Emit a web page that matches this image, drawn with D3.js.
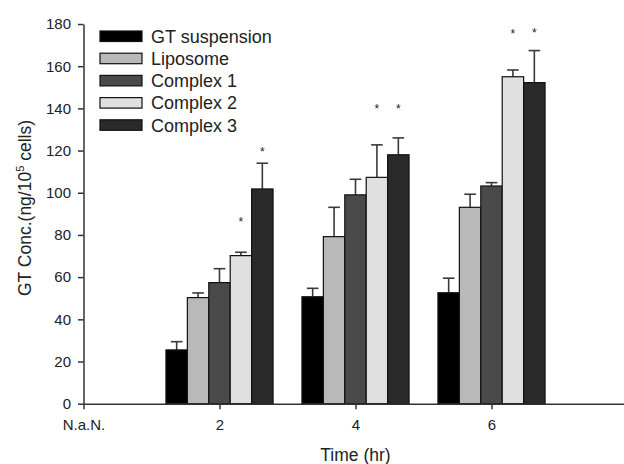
<!DOCTYPE html>
<html>
<head>
<meta charset="utf-8">
<script src="https://cdn.jsdelivr.net/npm/d3@7/dist/d3.min.js"></script>
<style>
  html, body { margin: 0; padding: 0; background: #fff; }
  svg { display: block; }
  text { font-family: "Liberation Sans", Arial, sans-serif; fill: #222; }
</style>
</head>
<body>
<svg id="chart" width="624" height="464"></svg>
<script>
// ---- data ----
const times = [2, 4, 6];
const seriesNames = ["GT suspension", "Liposome", "Complex 1", "Complex 2", "Complex 3"];
const seriesColors = ["#000000", "#b9b9b9", "#4a4a4a", "#e0e0e0", "#2a2a2a"];
const gtSuspension = [25.5, 50.7, 52.6];
const gtSuspensionErr = [3.9, 4.0, 6.9];
const liposome = [50.3, 79.2, 93.1];
const liposomeErr = [2.2, 13.9, 6.2];
const complex1 = [57.4, 99.0, 103.2];
const complex1Err = [6.6, 7.4, 1.6];
const complex2 = [70.2, 107.3, 155.0];
const complex2Err = [1.6, 15.4, 3.2];
const complex3 = [101.8, 118.0, 152.2];
const complex3Err = [12.2, 8.0, 15.2];
// significance markers (value level of the star)
const starComplex2 = [87.5, 141, 176.5];
const starComplex3 = [120.6, 141, 177];
const yTicks = [0, 20, 40, 60, 80, 100, 120, 140, 160, 180];
const xTicks = [0, 2, 4, 6];
const xTickLabels = ["N.a.N.", "2", "4", "6"];

const values = [gtSuspension, liposome, complex1, complex2, complex3];
const errors = [gtSuspensionErr, liposomeErr, complex1Err, complex2Err, complex3Err];
const stars = [null, null, null, starComplex2, starComplex3];

const svg = d3.select("#chart");

const x = d3.scaleLinear().domain([0, 8]).range([83.5, 627.5]);
const y = d3.scaleLinear().domain([0, 180]).range([403.7, 24]);
const groupWidth = x(1.575) - x(0);
const inner = d3.scaleBand().domain(seriesNames).range([-groupWidth / 2, groupWidth / 2]).padding(0);
const bw = inner.bandwidth();

// records
const records = [];
seriesNames.forEach((s, si) => {
  times.forEach((t, ti) => {
    records.push({ s, si, t, v: values[si][ti], e: errors[si][ti], star: stars[si] ? stars[si][ti] : null });
  });
});

// error bars (behind bars)
const eg = svg.append("g");
records.forEach(d => {
  const cx = x(d.t) + inner(d.s) + bw / 2;
  eg.append("line").attr("x1", cx).attr("x2", cx)
    .attr("y1", y(d.v)).attr("y2", y(d.v + d.e))
    .attr("stroke", "#3a3a3a").attr("stroke-width", 1.6);
  eg.append("line").attr("x1", cx - 5.8).attr("x2", cx + 5.8)
    .attr("y1", y(d.v + d.e)).attr("y2", y(d.v + d.e))
    .attr("stroke", "#3a3a3a").attr("stroke-width", 1.6);
});

// bars
svg.append("g").selectAll("rect").data(records).join("rect")
  .attr("x", d => x(d.t) + inner(d.s))
  .attr("y", d => y(d.v))
  .attr("width", bw)
  .attr("height", d => y(0) - y(d.v))
  .attr("fill", d => seriesColors[d.si])
  .attr("stroke", "#111")
  .attr("stroke-width", 1.2);

// stars
svg.append("g").selectAll("text").data(records.filter(d => d.star != null)).join("text")
  .attr("x", d => x(d.t) + inner(d.s) + bw / 2)
  .attr("y", d => y(d.star) + 0.58 * 12)
  .attr("text-anchor", "middle")
  .style("font-size", "12px")
  .text("*");

// axes
const yAxis = svg.append("g").attr("transform", `translate(${x(0)},0)`)
  .call(d3.axisLeft(y).tickValues(yTicks).tickSize(5.5).tickPadding(7).tickSizeOuter(0));
const xAxis = svg.append("g").attr("transform", `translate(0,${y(0)})`)
  .call(d3.axisBottom(x).tickValues(xTicks).tickFormat((d, i) => xTickLabels[i]).tickSize(5.5).tickPadding(10).tickSizeOuter(0));
[yAxis, xAxis].forEach(a => {
  a.selectAll("path, line").attr("stroke", "#333").attr("stroke-width", 1.5);
  a.selectAll("text").style("font-size", "15px").style("font-family", "'Liberation Sans', Arial, sans-serif").attr("fill", "#222");
});

// axis titles
svg.append("text")
  .attr("x", x(4)).attr("y", 461)
  .attr("text-anchor", "middle")
  .style("font-size", "17.5px")
  .text("Time (hr)");

const yt = svg.append("text")
  .attr("transform", `translate(31,${208}) rotate(-90)`)
  .attr("text-anchor", "middle")
  .style("font-size", "17.5px");
yt.append("tspan").text("GT Conc.(ng/10");
yt.append("tspan").attr("dy", -7).style("font-size", "11px").text("5");
yt.append("tspan").attr("dy", 7).text(" cells)");

// legend
const lg = svg.append("g");
seriesNames.forEach((s, i) => {
  const top = 31 + i * 22.2;
  lg.append("rect").attr("x", 100).attr("y", top).attr("width", 42).attr("height", 10.5)
    .attr("fill", seriesColors[i]).attr("stroke", "#111").attr("stroke-width", 1.2);
  lg.append("text").attr("x", 151).attr("y", top + 11.8)
    .style("font-size", "18px").text(s);
});
</script>
</body>
</html>
